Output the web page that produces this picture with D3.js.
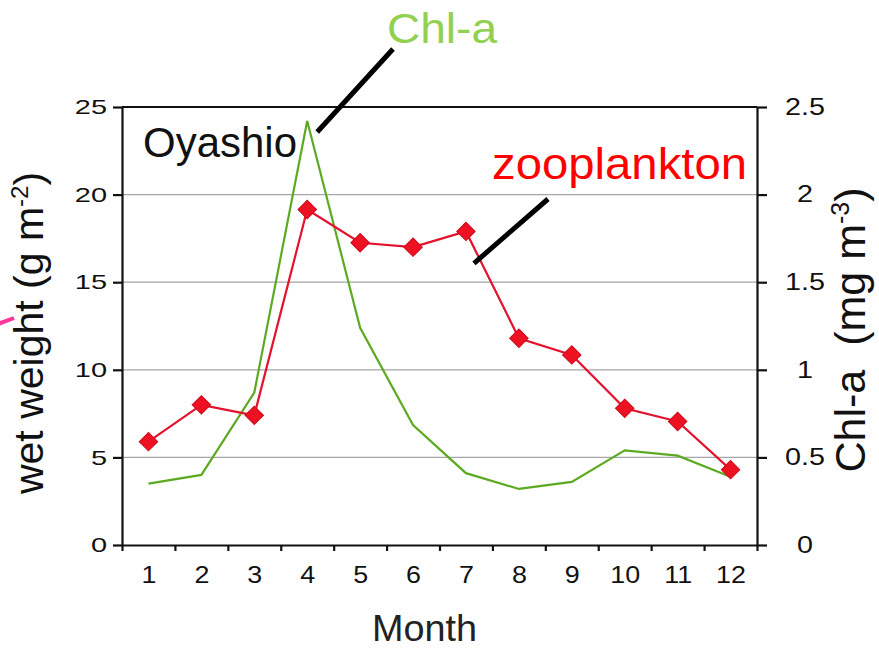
<!DOCTYPE html>
<html>
<head>
<meta charset="utf-8">
<script src="https://cdn.jsdelivr.net/npm/d3@7"></script>
<style>
  body { margin: 0; background: #fff; }
  text { font-family: "Liberation Sans", Arial, sans-serif; }
</style>
</head>
<body>
<svg id="chart" width="879" height="649"></svg>
<script>
// data
const months = [1, 2, 3, 4, 5, 6, 7, 8, 9, 10, 11, 12];
const zooplankton = [5.9, 8.0, 7.4, 19.15, 17.25, 17.0, 17.9, 11.8, 10.85, 7.8, 7.05, 4.3]; // g m-2
const chla = [0.35, 0.40, 0.87, 2.42, 1.24, 0.685, 0.41, 0.32, 0.36, 0.54, 0.51, 0.39];     // mg m-3
const leftTicks = [0, 5, 10, 15, 20, 25];
const rightTicks = [0, 0.5, 1, 1.5, 2, 2.5];

const svg = d3.select("svg#chart");
const plot = {left: 122, right: 757, top: 107, bottom: 545};

const x = d3.scaleLinear().domain([0.5, 12.5]).range([plot.left, plot.right]);
const yLeft = d3.scaleLinear().domain([0, 25]).range([plot.bottom, plot.top]);
const yRight = d3.scaleLinear().domain([0, 2.5]).range([plot.bottom, plot.top]);

// gridlines
svg.append("g").selectAll("line.grid").data(leftTicks.filter(d => d > 0 && d < 25))
    .join("line").attr("class", "grid")
    .attr("x1", plot.left).attr("x2", plot.right)
    .attr("y1", d => yLeft(d)).attr("y2", d => yLeft(d))
    .attr("stroke", "#a6a6a6").attr("stroke-width", 1.2)

// frame top
svg.append("line")
    .attr("x1", plot.left).attr("x2", plot.right)
    .attr("y1", yLeft(25)).attr("y2", yLeft(25))
    .attr("stroke", "#111").attr("stroke-width", 2)

// left axis
const gLeft = svg.append("g").attr("transform", `translate(${plot.left},0)`)
    .call(d3.axisLeft(yLeft).tickValues(leftTicks).tickSize(9).tickPadding(6).tickSizeOuter(0));
gLeft.selectAll("text")
    .attr("font-size", 21).attr("fill", "#111")
    .attr("transform", "translate(-15,0) scale(1.38,1) translate(15,0)")

// right axis
const gRight = svg.append("g").attr("transform", `translate(${plot.right},0)`)
    .call(d3.axisRight(yRight).tickValues(rightTicks).tickSize(10).tickPadding(38)
          .tickSizeOuter(0).tickFormat(d => String(d)));
gRight.selectAll("text")
    .attr("font-size", 23).attr("fill", "#111").attr("text-anchor", "middle")
    .attr("transform", "translate(48,0) scale(1.25,1) translate(-48,0)")

// bottom axis: tick marks at month edges, labels at month centres
const edges = d3.range(0.5, 13, 1);
const gBottom = svg.append("g").attr("transform", `translate(0,${plot.bottom})`)
    .call(d3.axisBottom(x).tickValues(edges).tickSize(6).tickSizeOuter(0).tickFormat(""));
const gMonths = svg.append("g").attr("transform", `translate(0,${plot.bottom})`)
    .call(d3.axisBottom(x).tickValues(months).tickSize(0).tickFormat(d => d));
gMonths.select(".domain").remove();
gMonths.selectAll("text")
    .attr("font-size", 24).attr("fill", "#111")
    .attr("dy", 0).attr("y", 38)
    .attr("transform", "scale(1.12,1)")

svg.selectAll(".domain, .tick line").attr("stroke", "#111").attr("stroke-width", 2.2)

// Chl-a line (right axis)
const chlLine = d3.line().x((d, i) => x(months[i])).y(d => yRight(d));
svg.append("path").datum(chla)
    .attr("d", chlLine)
    .attr("fill", "none").attr("stroke", "#5caa22").attr("stroke-width", 2.2)

// zooplankton line + diamonds (left axis)
const zooLine = d3.line().x((d, i) => x(months[i])).y(d => yLeft(d));
svg.append("path").datum(zooplankton)
    .attr("d", zooLine)
    .attr("fill", "none").attr("stroke", "#e3122d").attr("stroke-width", 2.2)

svg.append("g").selectAll("path.marker").data(zooplankton)
    .join("path").attr("class", "marker")
    .attr("d", d3.symbol().type(d3.symbolSquare).size(170))
    .attr("transform", (d, i) => `translate(${x(months[i])},${yLeft(d)}) rotate(45)`)
    .attr("fill", "#ee1122").attr("stroke", "#cc0a1e").attr("stroke-width", 1)

// axis titles
svg.append("text")
    .attr("transform", "translate(43,333) rotate(-90)")
    .attr("text-anchor", "middle").attr("font-size", 41).attr("fill", "#111")
    .html('wet weight (g m<tspan dy="-15" font-size="24">-2</tspan><tspan dy="15">)</tspan>')

svg.append("text")
    .attr("transform", "translate(865,330) rotate(-90)")
    .attr("text-anchor", "middle").attr("font-size", 43).attr("fill", "#111")
    .style("white-space", "pre")
    .html('Chl-a  (mg m<tspan dy="-16" font-size="25">-3</tspan><tspan dy="16">)</tspan>')

svg.append("text")
    .attr("x", 372).attr("y", 641)
    .attr("font-family", "'Open Sans', sans-serif")
    .attr("font-size", 36).attr("fill", "#222")
    .attr("textLength", 105).attr("lengthAdjust", "spacingAndGlyphs")
    .text("Month")

// annotations
svg.append("text")
    .attr("x", 143).attr("y", 157)
    .attr("font-size", 42).attr("fill", "#111")
    .attr("textLength", 154).attr("lengthAdjust", "spacingAndGlyphs")
    .text("Oyashio")

svg.append("text")
    .attr("x", 387).attr("y", 43)
    .attr("font-size", 43).attr("fill", "#92d050")
    .attr("textLength", 110).attr("lengthAdjust", "spacingAndGlyphs")
    .text("Chl-a")

svg.append("text")
    .attr("x", 492).attr("y", 179)
    .attr("font-size", 44).attr("fill", "#ff0000")
    .attr("textLength", 255).attr("lengthAdjust", "spacingAndGlyphs")
    .text("zooplankton")

// leader lines, anchored near the peaks they point at
const chlPeak = [x(4), yRight(chla[3])];
svg.append("line")
    .attr("x1", chlPeak[0] + 10).attr("y1", chlPeak[1] + 11)
    .attr("x2", 393).attr("y2", 49)
    .attr("stroke", "#000").attr("stroke-width", 5)

const zooJuly = [x(7), yLeft(zooplankton[6])];
svg.append("line")
    .attr("x1", zooJuly[0] + 8).attr("y1", zooJuly[1] + 32)
    .attr("x2", 548).attr("y2", 199)
    .attr("stroke", "#000").attr("stroke-width", 5)

// small pink stub at the left edge
svg.append("line")
    .attr("x1", -2).attr("y1", 324).attr("x2", 14).attr("y2", 318)
    .attr("stroke", "#ff3399").attr("stroke-width", 4)
</script>
</body>
</html>
